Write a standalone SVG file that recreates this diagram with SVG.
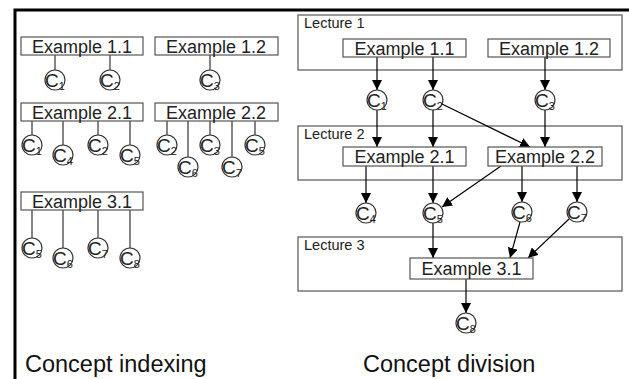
<svg xmlns="http://www.w3.org/2000/svg" width="629" height="379" viewBox="0 0 629 379">
<defs>
<marker id="ah" viewBox="0 0 10 10" refX="10" refY="5" markerWidth="10" markerHeight="10" markerUnits="userSpaceOnUse" orient="auto">
<path d="M0,0 L10,5 L0,10 z" fill="#000"/>
</marker>
<style>
.box{fill:#fff;stroke:#555;stroke-width:1.2}
.lec{fill:none;stroke:#555;stroke-width:1.2}
.lbl{font-family:"Liberation Sans",Arial,sans-serif;font-size:18px;fill:#222;text-anchor:middle}
.lt{font-family:"Liberation Sans",Arial,sans-serif;font-size:14.5px;fill:#222}
.big{font-family:"Liberation Sans",Arial,sans-serif;font-size:23.5px;fill:#111}
.cc{fill:#fff;stroke:#333;stroke-width:1.2}
.ct{font-family:"Liberation Sans",Arial,sans-serif;font-size:19px;fill:#222}
.sub{font-size:11px}
.ln{stroke:#333;stroke-width:1.2;fill:none}
.ar{stroke:#000;stroke-width:1.2;fill:none;marker-end:url(#ah)}
</style>
</defs>
<rect width="629" height="379" fill="#fff"/>
<path d="M15,379 L15,10 L629,10" fill="none" stroke="#000" stroke-width="3"/>

<!-- Left panel connectors -->
<g id="left-connectors">
<line class="ln" x1="55" y1="55" x2="55" y2="70"/>
<line class="ln" x1="110" y1="55" x2="110" y2="70"/>
<line class="ln" x1="210" y1="55" x2="210" y2="70"/>
<line class="ln" x1="32" y1="121" x2="32" y2="135"/>
<line class="ln" x1="63" y1="121" x2="63" y2="145"/>
<line class="ln" x1="98" y1="121" x2="98" y2="135"/>
<line class="ln" x1="130" y1="121" x2="130" y2="145"/>
<line class="ln" x1="167" y1="121" x2="167" y2="135"/>
<line class="ln" x1="188" y1="121" x2="188" y2="157"/>
<line class="ln" x1="210" y1="121" x2="210" y2="135"/>
<line class="ln" x1="232" y1="121" x2="232" y2="157"/>
<line class="ln" x1="255" y1="121" x2="255" y2="135"/>
<line class="ln" x1="32" y1="210" x2="32" y2="238"/>
<line class="ln" x1="63" y1="210" x2="63" y2="248"/>
<line class="ln" x1="98" y1="210" x2="98" y2="238"/>
<line class="ln" x1="130" y1="210" x2="130" y2="248"/>
</g>

<g id="L-ex11"><rect class="box" x="21" y="37" width="122" height="18"/><text class="lbl" x="82" y="52.5">Example 1.1</text></g>
<g id="L-ex12"><rect class="box" x="155" y="37" width="123" height="18"/><text class="lbl" x="216" y="52.5">Example 1.2</text></g>
<g id="L-ex21"><rect class="box" x="21" y="103" width="122" height="18"/><text class="lbl" x="82" y="118.5">Example 2.1</text></g>
<g id="L-ex22"><rect class="box" x="155" y="103" width="123" height="18"/><text class="lbl" x="216" y="118.5">Example 2.2</text></g>
<g id="L-ex31"><rect class="box" x="21" y="192" width="122" height="18"/><text class="lbl" x="82" y="207.5">Example 3.1</text></g>

<g id="L-c1a"><circle class="cc" cx="55" cy="80" r="10"/><text class="ct" x="45" y="87">C<tspan class="sub" dy="3">1</tspan></text></g>
<g id="L-c2a"><circle class="cc" cx="110" cy="80" r="10"/><text class="ct" x="100" y="87">C<tspan class="sub" dy="3">2</tspan></text></g>
<g id="L-c3a"><circle class="cc" cx="210" cy="80" r="10"/><text class="ct" x="200" y="87">C<tspan class="sub" dy="3">3</tspan></text></g>

<g id="L-c1b"><circle class="cc" cx="32" cy="145" r="10"/><text class="ct" x="22" y="152">C<tspan class="sub" dy="3">1</tspan></text></g>
<g id="L-c4b"><circle class="cc" cx="63" cy="155" r="10"/><text class="ct" x="53" y="162">C<tspan class="sub" dy="3">4</tspan></text></g>
<g id="L-c2b"><circle class="cc" cx="98" cy="145" r="10"/><text class="ct" x="88" y="152">C<tspan class="sub" dy="3">2</tspan></text></g>
<g id="L-c5b"><circle class="cc" cx="130" cy="155" r="10"/><text class="ct" x="120" y="162">C<tspan class="sub" dy="3">5</tspan></text></g>

<g id="L-c2c"><circle class="cc" cx="167" cy="145" r="10"/><text class="ct" x="157" y="152">C<tspan class="sub" dy="3">2</tspan></text></g>
<g id="L-c6c"><circle class="cc" cx="188" cy="167" r="10"/><text class="ct" x="178" y="174">C<tspan class="sub" dy="3">6</tspan></text></g>
<g id="L-c3c"><circle class="cc" cx="210" cy="145" r="10"/><text class="ct" x="200" y="152">C<tspan class="sub" dy="3">3</tspan></text></g>
<g id="L-c7c"><circle class="cc" cx="232" cy="167" r="10"/><text class="ct" x="222" y="174">C<tspan class="sub" dy="3">7</tspan></text></g>
<g id="L-c5c"><circle class="cc" cx="255" cy="145" r="10"/><text class="ct" x="245" y="152">C<tspan class="sub" dy="3">5</tspan></text></g>

<g id="L-c5d"><circle class="cc" cx="32" cy="248" r="10"/><text class="ct" x="22" y="255">C<tspan class="sub" dy="3">5</tspan></text></g>
<g id="L-c6d"><circle class="cc" cx="63" cy="258" r="10"/><text class="ct" x="53" y="265">C<tspan class="sub" dy="3">6</tspan></text></g>
<g id="L-c7d"><circle class="cc" cx="98" cy="248" r="10"/><text class="ct" x="88" y="255">C<tspan class="sub" dy="3">7</tspan></text></g>
<g id="L-c8d"><circle class="cc" cx="130" cy="258" r="10"/><text class="ct" x="120" y="265">C<tspan class="sub" dy="3">8</tspan></text></g>

<text class="big" x="25" y="372">Concept indexing</text>

<!-- Right panel -->
<g id="lecture1"><rect class="lec" x="298" y="15" width="324" height="55"/><text class="lt" x="304" y="28">Lecture 1</text></g>
<g id="lecture2"><rect class="lec" x="298" y="126" width="324" height="54"/><text class="lt" x="304" y="139">Lecture 2</text></g>
<g id="lecture3"><rect class="lec" x="298" y="237" width="324" height="54"/><text class="lt" x="304" y="250">Lecture 3</text></g>

<g id="right-connectors">
<line class="ar" x1="377" y1="57" x2="377" y2="90"/>
<line class="ar" x1="433" y1="57" x2="433" y2="90"/>
<line class="ar" x1="545" y1="57" x2="545" y2="90"/>
<line class="ar" x1="377" y1="110" x2="377" y2="147"/>
<line class="ar" x1="433" y1="110" x2="433" y2="147"/>
<line class="ar" x1="442" y1="104" x2="530" y2="147"/>
<line class="ar" x1="545" y1="110" x2="545" y2="147"/>
<line class="ar" x1="366" y1="166" x2="366" y2="203"/>
<line class="ar" x1="433" y1="166" x2="433" y2="203"/>
<line class="ar" x1="501" y1="166" x2="442" y2="207"/>
<line class="ar" x1="522" y1="166" x2="522" y2="202"/>
<line class="ar" x1="577" y1="166" x2="577" y2="202"/>
<line class="ar" x1="433" y1="223" x2="433" y2="258"/>
<line class="ar" x1="520" y1="222" x2="510" y2="258"/>
<line class="ar" x1="569" y1="219" x2="528" y2="258"/>
<line class="ar" x1="466" y1="279" x2="466" y2="313"/>
</g>

<g id="R-ex11"><rect class="box" x="343" y="39" width="123" height="18"/><text class="lbl" x="404.5" y="54.5">Example 1.1</text></g>
<g id="R-ex12"><rect class="box" x="488" y="39" width="122" height="18"/><text class="lbl" x="549" y="54.5">Example 1.2</text></g>
<g id="R-ex21"><rect class="box" x="343" y="147" width="123" height="19"/><text class="lbl" x="404.5" y="163">Example 2.1</text></g>
<g id="R-ex22"><rect class="box" x="488" y="147" width="114" height="19"/><text class="lbl" x="545" y="163">Example 2.2</text></g>
<g id="R-ex31"><rect class="box" x="410" y="258" width="123" height="21"/><text class="lbl" x="471.5" y="275">Example 3.1</text></g>

<g id="R-c1"><circle class="cc" cx="377" cy="100" r="10"/><text class="ct" x="367" y="107">C<tspan class="sub" dy="3">1</tspan></text></g>
<g id="R-c2"><circle class="cc" cx="433" cy="100" r="10"/><text class="ct" x="423" y="107">C<tspan class="sub" dy="3">2</tspan></text></g>
<g id="R-c3"><circle class="cc" cx="545" cy="100" r="10"/><text class="ct" x="535" y="107">C<tspan class="sub" dy="3">3</tspan></text></g>
<g id="R-c4"><circle class="cc" cx="366" cy="213" r="10"/><text class="ct" x="356" y="220">C<tspan class="sub" dy="3">4</tspan></text></g>
<g id="R-c5"><circle class="cc" cx="433" cy="213" r="10"/><text class="ct" x="423" y="220">C<tspan class="sub" dy="3">5</tspan></text></g>
<g id="R-c6"><circle class="cc" cx="522" cy="212" r="10"/><text class="ct" x="512" y="219">C<tspan class="sub" dy="3">6</tspan></text></g>
<g id="R-c7"><circle class="cc" cx="577" cy="212" r="10"/><text class="ct" x="567" y="219">C<tspan class="sub" dy="3">7</tspan></text></g>
<g id="R-c8"><circle class="cc" cx="466" cy="323" r="10"/><text class="ct" x="456" y="330">C<tspan class="sub" dy="3">8</tspan></text></g>

<text class="big" x="363" y="372">Concept division</text>
</svg>
